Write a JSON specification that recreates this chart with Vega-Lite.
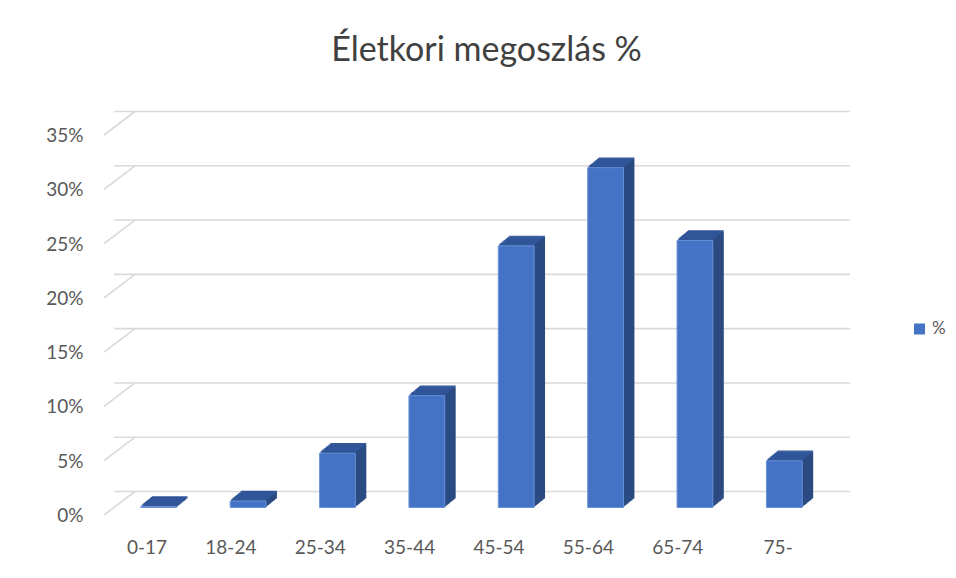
{
  "$schema": "https://vega.github.io/schema/vega-lite/v6.json",
  "width": 715,
  "height": 380,
  "autosize": {"type": "none"},
  "padding": {"left": 114, "top": 127.5, "right": 127, "bottom": 70.5},
  "background": "white",
  "config": {"view": {"stroke": null}, "font": "Lato"},
  "title": {"text": "Életkori megoszlás %", "anchor": "middle", "frame": "group", "dx": 15, "offset": 16, "baseline": "alphabetic", "fontSize": 34, "fontWeight": "normal", "color": "#404040", "font": "Lato"},
  "datasets": {
    "grid": [{"v": 0}, {"v": 0.05}, {"v": 0.1}, {"v": 0.15}, {"v": 0.2}, {"v": 0.25}, {"v": 0.3}, {"v": 0.35}],
    "bars": [
      {"cat": "0-17", "pct": 0.001},
      {"cat": "18-24", "pct": 0.006},
      {"cat": "25-34", "pct": 0.050},
      {"cat": "35-44", "pct": 0.103},
      {"cat": "45-54", "pct": 0.241},
      {"cat": "55-64", "pct": 0.313},
      {"cat": "65-74", "pct": 0.246},
      {"cat": "75-", "pct": 0.043}
    ]
  },
  "layer": [
    {
      "data": {"name": "grid"},
      "mark": {"type": "rule", "color": "#D9D9D9", "strokeWidth": 1.6, "xOffset": 21, "x2Offset": 21, "yOffset": -16},
      "encoding": {"y": {"field": "v", "type": "quantitative", "scale": {"domain": [0, 0.35], "nice": false},
        "axis": {"title": null, "domain": false, "ticks": false, "grid": false, "values": [0, 0.05, 0.1, 0.15, 0.2, 0.25, 0.3, 0.35], "format": ".0%", "labelOffset": 8, "labelPadding": 31, "labelFontSize": 19, "labelColor": "#595959", "labelFont": "Lato"}}}
    },
    {
      "data": {"name": "grid"},
      "mark": {"type": "rule", "color": "#D9D9D9", "strokeWidth": 1.6, "xOffset": -54.7, "x2Offset": -23.7, "yOffset": 7.5, "y2Offset": -16},
      "encoding": {
        "x": {"datum": "0-17", "type": "nominal"},
        "x2": {"datum": "0-17"},
        "y": {"field": "v", "type": "quantitative",
          "axis": {"title": null, "domain": false, "ticks": false, "grid": false, "values": [0, 0.05, 0.1, 0.15, 0.2, 0.25, 0.3, 0.35], "format": ".0%", "labelOffset": 8, "labelPadding": 31, "labelFontSize": 19, "labelColor": "#595959", "labelFont": "Lato"}},
        "y2": {"field": "v"}
      }
    },
    {
      "data": {"name": "bars"},
      "encoding": {
        "x": {"field": "cat", "type": "nominal", "sort": null,
          "scale": {"domain": ["0-17", "18-24", "25-34", "35-44", "45-54", "55-64", "65-74", "75-"], "paddingInner": 0.6, "paddingOuter": 0.3},
          "axis": {"title": null, "domain": false, "ticks": false, "labelAngle": 0, "labelOffset": 8.4, "labelPadding": 40, "labelFontSize": 19, "labelColor": "#595959", "labelFont": "Lato"}},
        "y": {"field": "pct", "type": "quantitative",
          "axis": {"title": null, "domain": false, "ticks": false, "grid": false, "values": [0, 0.05, 0.1, 0.15, 0.2, 0.25, 0.3, 0.35], "format": ".0%", "labelOffset": 8, "labelPadding": 31, "labelFontSize": 19, "labelColor": "#595959", "labelFont": "Lato"}}
      },
      "layer": [
        {"mark": {"type": "bar", "color": "#2B4B82", "xOffset": 11, "yOffset": -9, "y2Offset": -9}},
        {"mark": {"type": "bar", "color": "#2B4B82", "xOffset": 10, "yOffset": -8.18, "y2Offset": -8.18}},
        {"mark": {"type": "bar", "color": "#2B4B82", "xOffset": 9, "yOffset": -7.36, "y2Offset": -7.36}},
        {"mark": {"type": "bar", "color": "#2B4B82", "xOffset": 8, "yOffset": -6.55, "y2Offset": -6.55}},
        {"mark": {"type": "bar", "color": "#2B4B82", "xOffset": 7, "yOffset": -5.73, "y2Offset": -5.73}},
        {"mark": {"type": "bar", "color": "#2B4B82", "xOffset": 6, "yOffset": -4.91, "y2Offset": -4.91}},
        {"mark": {"type": "bar", "color": "#2B4B82", "xOffset": 5, "yOffset": -4.09, "y2Offset": -4.09}},
        {"mark": {"type": "bar", "color": "#2B4B82", "xOffset": 4, "yOffset": -3.27, "y2Offset": -3.27}},
        {"mark": {"type": "bar", "color": "#2B4B82", "xOffset": 3, "yOffset": -2.45, "y2Offset": -2.45}},
        {"mark": {"type": "bar", "color": "#2B4B82", "xOffset": 2, "yOffset": -1.64, "y2Offset": -1.64}},
        {"mark": {"type": "bar", "color": "#2B4B82", "xOffset": 1, "yOffset": -0.82, "y2Offset": -0.82}},
        {"mark": {"type": "bar", "color": "#31569A", "xOffset": 11, "yOffset": -10.2, "y2Offset": -9}, "encoding": {"y2": {"field": "pct"}}},
        {"mark": {"type": "bar", "color": "#31569A", "xOffset": 10, "yOffset": -9.38, "y2Offset": -8.18}, "encoding": {"y2": {"field": "pct"}}},
        {"mark": {"type": "bar", "color": "#31569A", "xOffset": 9, "yOffset": -8.56, "y2Offset": -7.36}, "encoding": {"y2": {"field": "pct"}}},
        {"mark": {"type": "bar", "color": "#31569A", "xOffset": 8, "yOffset": -7.75, "y2Offset": -6.55}, "encoding": {"y2": {"field": "pct"}}},
        {"mark": {"type": "bar", "color": "#31569A", "xOffset": 7, "yOffset": -6.93, "y2Offset": -5.73}, "encoding": {"y2": {"field": "pct"}}},
        {"mark": {"type": "bar", "color": "#31569A", "xOffset": 6, "yOffset": -6.11, "y2Offset": -4.91}, "encoding": {"y2": {"field": "pct"}}},
        {"mark": {"type": "bar", "color": "#31569A", "xOffset": 5, "yOffset": -5.29, "y2Offset": -4.09}, "encoding": {"y2": {"field": "pct"}}},
        {"mark": {"type": "bar", "color": "#31569A", "xOffset": 4, "yOffset": -4.47, "y2Offset": -3.27}, "encoding": {"y2": {"field": "pct"}}},
        {"mark": {"type": "bar", "color": "#31569A", "xOffset": 3, "yOffset": -3.65, "y2Offset": -2.45}, "encoding": {"y2": {"field": "pct"}}},
        {"mark": {"type": "bar", "color": "#31569A", "xOffset": 2, "yOffset": -2.84, "y2Offset": -1.64}, "encoding": {"y2": {"field": "pct"}}},
        {"mark": {"type": "bar", "color": "#31569A", "xOffset": 1, "yOffset": -2.02, "y2Offset": -0.82}, "encoding": {"y2": {"field": "pct"}}},
        {
          "mark": {"type": "bar", "stroke": "#6A92D8", "strokeWidth": 1},
          "encoding": {
            "color": {"datum": "%", "type": "nominal", "scale": {"range": ["#4472C4"]},
              "legend": {"orient": "none", "legendX": 797, "legendY": 193, "title": null, "symbolType": "square", "symbolSize": 121, "symbolStrokeWidth": 0, "labelFontSize": 17, "labelColor": "#595959", "labelFont": "Lato", "labelOffset": 4, "padding": 0}}
          }
        }
      ]
    }
  ]
}
